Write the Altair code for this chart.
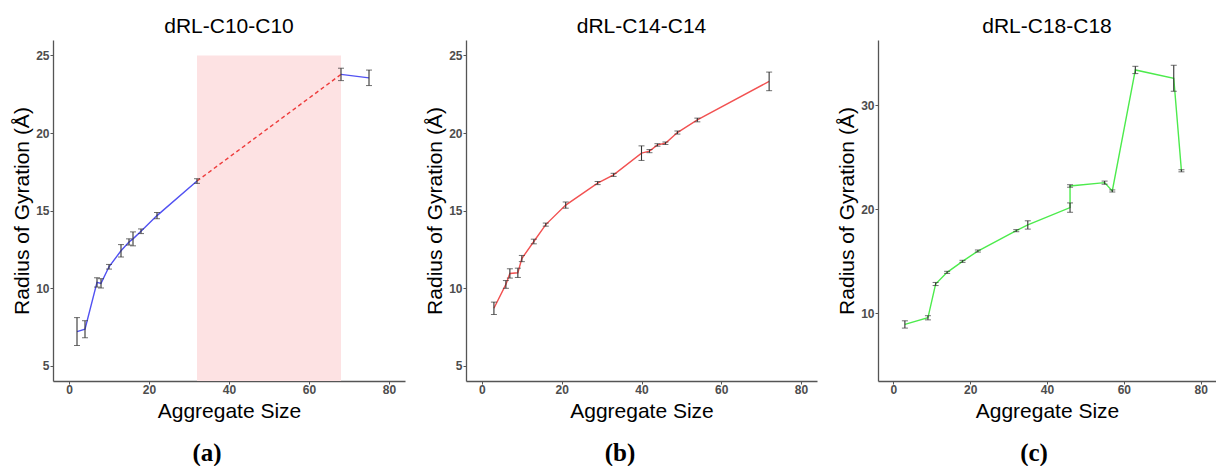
import altair as alt
import pandas as pd

# ---------------- data ----------------
X_TICKS = [0, 20, 40, 60, 80]
TITLES = ["dRL-C10-C10", "dRL-C14-C14", "dRL-C18-C18"]
CAPTIONS = ["(a)", "(b)", "(c)"]
X_LABEL = "Aggregate Size"
Y_LABEL = "Radius of Gyration (Å)"

# panel (a) dRL-C10-C10
A_SIZE = [2, 4, 7, 8, 10, 13, 15, 16, 18, 22, 32, 68, 75]
A_RG = [7.19, 7.34, 10.36, 10.30, 11.37, 12.40, 12.97, 13.17, 13.66, 14.67, 16.90, 23.78, 23.56]
A_ERR = [0.90, 0.55, 0.30, 0.30, 0.15, 0.40, 0.20, 0.45, 0.15, 0.20, 0.15, 0.40, 0.50]
A_SEGMENT = [1, 1, 1, 1, 1, 1, 1, 1, 1, 1, 1, 2, 2]
A_GAP_SIZE = [32, 68]
A_GAP_RG = [16.90, 23.78]
A_SHADE_X = [32]
A_SHADE_X2 = [68]
A_SHADE_TOP = [25]
A_Y_TICKS = [5, 10, 15, 20, 25]

# panel (b) dRL-C14-C14
B_SIZE = [3, 6, 7, 9, 10, 13, 16, 21, 29, 33, 40, 42, 44, 46, 49, 54, 72]
B_RG = [8.69, 10.23, 10.94, 10.98, 11.90, 13.00, 14.09, 15.35, 16.77, 17.30, 18.70, 18.83,
        19.23, 19.34, 20.03, 20.84, 23.33]
B_ERR = [0.40, 0.25, 0.30, 0.30, 0.20, 0.15, 0.10, 0.20, 0.10, 0.10, 0.47, 0.10,
         0.08, 0.08, 0.10, 0.12, 0.60]
B_Y_TICKS = [5, 10, 15, 20, 25]

# panel (c) dRL-C18-C18
C_SIZE = [3, 9, 11, 14, 18, 22, 32, 35, 46, 46, 55, 57, 63, 73, 75]
C_RG = [8.94, 9.58, 12.83, 13.95, 15.01, 16.00, 17.96, 18.51, 20.18, 22.26, 22.58, 21.78,
        33.42, 32.62, 23.72]
C_ERR = [0.35, 0.20, 0.15, 0.10, 0.10, 0.10, 0.10, 0.40, 0.45, 0.12, 0.15, 0.10,
         0.35, 1.25, 0.10]
C_Y_TICKS = [10, 20, 30]

# ---------------- styling ----------------
FONT = "Liberation Sans"
H = 341
X_DOMAIN = [-4, 84]


def xenc(field):
    return alt.X(field, type="quantitative", title=X_LABEL,
                 scale=alt.Scale(domain=X_DOMAIN, nice=False, zero=False),
                 axis=alt.Axis(values=X_TICKS))


def yenc(field, domain, ticks):
    return alt.Y(field, type="quantitative", title=Y_LABEL,
                 scale=alt.Scale(domain=domain, nice=False, zero=False),
                 axis=alt.Axis(values=ticks))


def series_layers(df, color, domain, ticks, detail=None):
    line_enc = dict(x=xenc("size"), y=yenc("rg", domain, ticks))
    if detail is not None:
        line_enc["detail"] = alt.Detail(detail, type="nominal")
    line = alt.Chart(df).mark_line(color=color, strokeWidth=1.4).encode(
        order=alt.Order("idx:Q"), **line_enc)
    rule = alt.Chart(df).mark_rule(color="#333333", strokeWidth=1.1).encode(
        x=xenc("size"), y=yenc("lo", domain, ticks), y2="hi:Q")
    cap_lo = alt.Chart(df).mark_tick(color="#333333", size=6, thickness=1,
                                     orient="horizontal").encode(
        x=xenc("size"), y=yenc("lo", domain, ticks))
    cap_hi = alt.Chart(df).mark_tick(color="#333333", size=6, thickness=1,
                                     orient="horizontal").encode(
        x=xenc("size"), y=yenc("hi", domain, ticks))
    return [line, rule, cap_lo, cap_hi]


def frame(size, rg, err, extra=None):
    df = pd.DataFrame({"size": size, "rg": rg, "err": err})
    df["idx"] = range(len(df))
    df["lo"] = df["rg"] - df["err"]
    df["hi"] = df["rg"] + df["err"]
    if extra is not None:
        for k, v in extra.items():
            df[k] = v
    return df


def caption_layer(text, xpos):
    return alt.Chart(pd.DataFrame({"cap": [text]})).mark_text(
        font="Liberation Serif", fontSize=25, fontWeight="bold", color="black",
        align="center", baseline="alphabetic").encode(
        text="cap:N", x=alt.value(xpos), y=alt.value(H + 80))


def title(text):
    return alt.TitleParams(text=text, font=FONT, fontSize=21, fontWeight="normal",
                           color="black", anchor="middle", frame="group",
                           baseline="alphabetic", offset=-14)


# panel a
dfa = frame(A_SIZE, A_RG, A_ERR, {"seg": A_SEGMENT})
A_DOM = [4, 26]
shade = alt.Chart(pd.DataFrame({"x1": A_SHADE_X, "x2": A_SHADE_X2, "top": A_SHADE_TOP})).mark_rect(
    color="#FDE2E3").encode(x=xenc("x1"), x2="x2:Q", y=yenc("top", A_DOM, A_Y_TICKS),
                            y2=alt.value(H))
gap = alt.Chart(pd.DataFrame({"size": A_GAP_SIZE, "rg": A_GAP_RG})).mark_line(
    color="#EE3B3B", strokeWidth=1.4, strokeDash=[4, 3]).encode(
    x=xenc("size"), y=yenc("rg", A_DOM, A_Y_TICKS))
panel_a = alt.layer(
    shade, gap, *series_layers(dfa, "#5151F2", A_DOM, A_Y_TICKS, detail="seg"),
    caption_layer(CAPTIONS[0], 154)
).properties(width=352, height=H, title=title(TITLES[0]))

# panel b
dfb = frame(B_SIZE, B_RG, B_ERR)
B_DOM = [4, 26]
panel_b = alt.layer(
    *series_layers(dfb, "#F25151", B_DOM, B_Y_TICKS),
    caption_layer(CAPTIONS[1], 154)
).properties(width=351, height=H, title=title(TITLES[1]))

# panel c
dfc = frame(C_SIZE, C_RG, C_ERR)
C_DOM = [3.5, 36.3]
panel_c = alt.layer(
    *series_layers(dfc, "#4CEB4C", C_DOM, C_Y_TICKS),
    caption_layer(CAPTIONS[2], 156)
).properties(width=338, height=H, title=title(TITLES[2]))

chart = alt.hconcat(panel_a, panel_b, panel_c, spacing=61, bounds="flush").properties(
    padding={"left": 11, "top": 16, "right": 0, "bottom": 0},
    background="white"
).configure_view(stroke=None).configure_axis(
    grid=False,
    domainColor="#555555", domainWidth=1.3,
    tickColor="#555555", tickSize=3, tickWidth=1,
    labelColor="#4D4D4D", labelFont=FONT, labelFontSize=12, labelFontWeight="bold",
    labelPadding=1,
    titleFont=FONT, titleFontSize=21, titleFontWeight="normal", titleColor="black",
).configure_axisX(
    titleY=36, titleBaseline="alphabetic", labelPadding=0
).configure_axisY(
    titleX=-25, titleBaseline="alphabetic"
)

chart.save("out.html", embed_options={"renderer": "svg", "actions": False})
